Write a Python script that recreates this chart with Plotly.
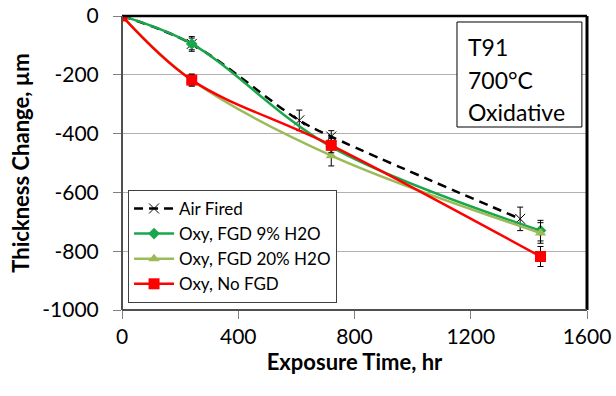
import plotly.graph_objects as go

# Data
air_x = [0, 240, 610, 720, 1370]
air_y = [0, -95, -355, -410, -690]
air_err = [0, 20, 35, 20, 40]

fgd9_x = [0, 240, 720, 1440]
fgd9_y = [0, -95, -445, -730]
fgd9_err = [0, 25, 30, 35]

fgd20_x = [0, 240, 720, 1440]
fgd20_y = [0, -218, -475, -738]
fgd20_err = [0, 20, 35, 35]

nofgd_x = [0, 240, 720, 1440]
nofgd_y = [0, -218, -440, -818]
nofgd_err = [0, 20, 25, 34]

x_ticks = [0, 400, 800, 1200, 1600]
y_ticks = [0, -200, -400, -600, -800, -1000]
y_ticklabels = ["0", "-200", "-400", "-600", "-800", "-1000"]

info_lines = ["T91", "700°C", "Oxidative"]

FONT = "Lato"

fig = go.Figure()

def err(arr):
    return dict(type="data", array=arr, visible=True, color="black", thickness=1, width=3)

fig.add_trace(go.Scatter(
    x=air_x, y=air_y, name="Air Fired", mode="lines+markers",
    line=dict(color="black", width=2.5, dash="9px,6px", shape="spline"),
    marker=dict(symbol="x-thin", size=10, line=dict(color="black", width=1)),
    error_y=err(air_err)))
fig.add_trace(go.Scatter(
    x=fgd9_x, y=fgd9_y, name="Oxy, FGD 9% H2O", mode="lines+markers",
    line=dict(color="#1aa64a", width=2.5, shape="spline"),
    marker=dict(symbol="diamond", size=9, color="#1aa64a"),
    error_y=err(fgd9_err)))
fig.add_trace(go.Scatter(
    x=fgd20_x, y=fgd20_y, name="Oxy, FGD 20% H2O", mode="lines+markers",
    line=dict(color="#9bbb59", width=2.5, shape="spline"),
    marker=dict(symbol="triangle-up", size=10, color="#9bbb59"),
    error_y=err(fgd20_err)))
fig.add_trace(go.Scatter(
    x=nofgd_x, y=nofgd_y, name="Oxy, No FGD", mode="lines+markers",
    line=dict(color="#ff0000", width=2.5, shape="spline"),
    marker=dict(symbol="square", size=11, color="#ff0000"),
    error_y=err(nofgd_err)))

fig.update_layout(
    width=616, height=396,
    margin=dict(l=122, r=29, t=16, b=86, autoexpand=False),
    paper_bgcolor="white", plot_bgcolor="white",
    font=dict(family=FONT, color="black"),
    showlegend=True,
    legend=dict(x=0.013, y=0.024, xanchor="left", yanchor="bottom",
                bordercolor="#404040", borderwidth=1, bgcolor="white",
                font=dict(size=17, family=FONT), tracegroupgap=0,
                itemwidth=40),
    xaxis=dict(range=[0, 1600], tickvals=x_ticks, ticks="outside", ticklen=8,
               tickcolor="#808080", showgrid=False, zeroline=False, automargin=False,
               ticklabelstandoff=0, ticklabeloverflow="allow",
               tickfont=dict(size=21), title=dict(text="<b>Exposure Time, hr</b>",
               font=dict(size=22), standoff=0)),
    yaxis=dict(range=[-1000, 0], tickvals=y_ticks, ticktext=y_ticklabels,
               ticks="outside", ticklen=8, ticklabelstandoff=10, ticklabeloverflow="allow",
               tickcolor="#808080", showgrid=True, gridcolor="#b0b0b0", gridwidth=1,
               zeroline=False, tickfont=dict(size=21), automargin=False,
               title=dict(text="<b>Thickness Change, µm</b>", font=dict(size=22), standoff=6)),
    annotations=[
        dict(xref="paper", yref="paper", x=0.7398, y=yp, xanchor="left", yanchor="middle",
             text=t, showarrow=False, align="left", font=dict(size=23, family=FONT))
        for t, yp in zip(info_lines, [0.893, 0.781, 0.672])
    ],
    shapes=[
        dict(type="rect", xref="paper", yref="paper", x0=0.7204, x1=0.989, y0=0.6224, y1=0.9796,
             line=dict(color="black", width=1), fillcolor="white", layer="above"),
        dict(type="line", xref="paper", yref="paper", x0=0, x1=1, y0=1, y1=1,
             line=dict(color="black", width=2.5)),
        dict(type="line", xref="paper", yref="paper", x0=1, x1=1, y0=0, y1=1,
             line=dict(color="black", width=3)),
        dict(type="line", xref="paper", yref="paper", x0=0, x1=1, y0=0, y1=0,
             line=dict(color="#505050", width=2)),
        dict(type="line", xref="paper", yref="paper", x0=0, x1=0, y0=0, y1=1,
             line=dict(color="#505050", width=2)),
    ],
)

fig.write_html("out.html", config={"displayModeBar": False},
               post_script="document.body.style.margin='0';document.body.style.overflow='hidden';")
